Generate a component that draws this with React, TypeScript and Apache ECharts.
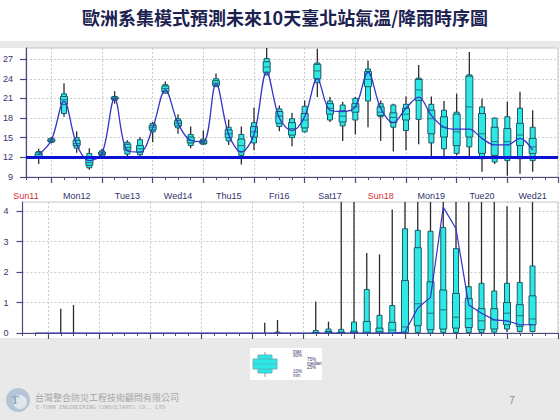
import React, { useEffect, useRef } from 'react';
import * as echarts from 'echarts';

// forecast lead positions: hours counted from Sun11 00:00
const boxHours = [18, 24, 30, 36, 42, 48, 54, 60, 66, 72, 78, 84, 90, 96, 102, 108, 114, 120, 126, 132, 138, 144, 150, 156, 162, 168, 174, 180, 186, 192, 198, 204, 210, 216, 222, 228, 234, 240, 246, 252];
const dayLabels = ['Sun11', 'Mon12', 'Tue13', 'Wed14', 'Thu15', 'Fri16', 'Sat17', 'Sun18', 'Mon19', 'Tue20', 'Wed21'];
const labelHours = [12, 36, 60, 84, 108, 132, 156, 180, 204, 228, 252];
const dayStartHours = [24, 48, 72, 96, 120, 144, 168, 192, 216, 240, 264];
const tempTicks = [9, 12, 15, 18, 21, 24, 27];
const rainTicks = [0, 1, 2, 3, 4];

// temperature ensemble statistics (°C)
const tempMin = [11.0, 14.1, 18.2, 12.7, 10.1, 12.0, 20.2, 11.8, 11.9, 14.3, 21.8, 15.6, 13.4, 14.0, 22.8, 13.9, 10.9, 13.1, 24.5, 16.0, 13.7, 15.8, 21.2, 17.4, 14.5, 15.5, 16.6, 14.5, 12.9, 13.1, 14.0, 12.1, 11.8, 12.3, 12.1, 9.8, 11.0, 9.2, 9.5, 9.8];
const tempP10 = [11.9, 14.3, 18.7, 13.4, 10.4, 12.2, 20.7, 12.5, 12.4, 15.9, 21.8, 16.5, 13.8, 14.0, 22.8, 14.5, 12.3, 14.2, 24.6, 16.7, 15.0, 15.9, 23.4, 17.7, 16.8, 17.7, 20.6, 18.2, 16.6, 16.1, 17.8, 14.2, 13.3, 12.6, 13.6, 11.8, 11.3, 11.5, 11.8, 11.5];
const tempP25 = [12.1, 14.4, 20.1, 13.8, 10.8, 12.4, 20.9, 13.1, 12.8, 16.2, 22.0, 16.8, 14.2, 14.1, 23.0, 15.0, 12.9, 15.1, 25.0, 17.2, 15.4, 16.5, 24.0, 18.6, 17.4, 18.9, 22.8, 18.4, 17.3, 17.7, 20.7, 15.6, 15.1, 13.8, 15.1, 12.6, 12.3, 12.0, 13.8, 12.6];
const tempMed = [12.4, 14.6, 20.8, 14.1, 11.2, 12.6, 21.0, 13.5, 13.3, 16.6, 22.5, 17.2, 14.6, 14.3, 23.3, 15.6, 13.8, 15.9, 25.8, 18.3, 16.4, 17.7, 25.2, 19.5, 18.3, 19.7, 23.9, 18.9, 18.1, 18.6, 22.3, 17.9, 16.6, 15.9, 19.7, 15.6, 14.4, 14.4, 15.4, 13.6];
const tempP75 = [12.7, 14.8, 21.3, 14.6, 12.0, 12.8, 21.2, 14.0, 13.8, 16.9, 22.9, 17.6, 15.1, 14.6, 23.7, 16.2, 14.8, 16.7, 26.6, 19.0, 17.3, 18.7, 26.2, 20.2, 19.1, 20.2, 25.1, 19.7, 18.8, 19.5, 23.9, 19.2, 18.2, 18.6, 24.4, 18.7, 16.6, 16.4, 17.2, 14.9];
const tempP90 = [12.9, 14.9, 21.7, 15.0, 12.6, 13.0, 21.3, 14.3, 14.7, 17.2, 23.1, 17.9, 15.5, 14.8, 24.0, 16.6, 15.5, 17.3, 27.1, 19.4, 17.9, 19.8, 26.4, 20.6, 20.0, 21.0, 25.5, 20.2, 20.0, 20.1, 24.1, 20.1, 19.2, 18.9, 24.6, 19.7, 18.0, 18.2, 19.5, 16.6];
const tempMax = [13.3, 15.1, 23.3, 16.0, 13.4, 13.3, 22.1, 14.6, 15.1, 17.4, 23.6, 18.6, 16.7, 16.1, 24.8, 17.8, 16.7, 19.6, 29.5, 19.9, 18.8, 20.7, 28.6, 21.2, 20.5, 21.2, 26.8, 20.7, 20.2, 21.3, 26.1, 21.3, 20.6, 21.7, 28.1, 21.0, 18.1, 20.5, 22.0, 19.2];
const tempLine = [12.4, 14.6, 20.6, 14.0, 11.5, 12.6, 21.0, 13.0, 12.8, 16.5, 22.3, 17.2, 14.6, 14.4, 23.3, 15.5, 12.8, 15.5, 25.0, 18.0, 16.1, 18.2, 24.0, 19.2, 19.0, 19.7, 25.0, 19.5, 17.3, 19.5, 21.2, 18.4, 16.6, 16.3, 16.3, 14.9, 13.9, 13.9, 14.9, 13.1];
const tempRef = 12;

// rainfall ensemble statistics (mm)
const rainMin = [0, 0, 0, 0, 0, 0, 0, 0, 0, 0, 0, 0, 0, 0, 0, 0, 0, 0, 0, 0, 0, 0, 0, 0, 0, 0, 0, 0, 0, 0, 0, 0, 0, 0, 0, 0, 0, 0.03, 0.02, 0.02];
const rainP10 = [0, 0, 0, 0, 0, 0, 0, 0, 0, 0, 0, 0, 0, 0, 0, 0, 0, 0, 0, 0, 0, 0, 0, 0, 0, 0, 0, 0, 0, 0, 0.02, 0, 0.02, 0.02, 0.02, 0.02, 0.03, 0.13, 0.05, 0.05];
const rainP25 = [0, 0, 0, 0, 0, 0, 0, 0, 0, 0, 0, 0, 0, 0, 0, 0, 0, 0, 0, 0, 0, 0, 0, 0, 0, 0, 0, 0, 0, 0.02, 0.24, 0.11, 0.13, 0.16, 0.18, 0.11, 0.13, 0.27, 0.22, 0.27];
const rainMed = [0, 0, 0, 0, 0, 0, 0, 0, 0, 0, 0, 0, 0, 0, 0, 0, 0, 0, 0, 0, 0, 0, 0, 0, 0, 0.02, 0.03, 0.05, 0.1, 0.2, 0.96, 0.65, 0.76, 0.52, 0.47, 0.40, 0.43, 0.65, 0.57, 0.46];
const rainP75 = [0, 0, 0, 0, 0, 0, 0, 0, 0, 0, 0, 0, 0, 0, 0, 0, 0, 0, 0, 0, 0, 0, 0.02, 0.05, 0.03, 0.06, 0.38, 0.16, 0.35, 1.72, 2.80, 1.68, 1.41, 1.30, 1.13, 0.80, 0.80, 1.0, 0.93, 1.22];
const rainP90 = [0, 0, 0, 0, 0, 0, 0, 0, 0, 0, 0, 0, 0, 0, 0, 0, 0, 0, 0, 0.03, 0, 0, 0.08, 0.13, 0.12, 0.36, 1.43, 0.58, 0.9, 3.42, 3.37, 3.34, 3.46, 2.77, 1.52, 1.63, 1.38, 1.63, 1.66, 2.2];
const rainMax = [0, 0, 0.8, 0.92, 0, 0, 0, 0, 0, 0, 0, 0, 0, 0, 0, 0, 0, 0, 0.34, 0.43, 0, 0, 1.03, 0.37, 5.2, 5.8, 2.63, 2.58, 4.05, 7.5, 9.0, 8.1, 12.0, 10.4, 6.3, 5.9, 5.1, 4.16, 4.13, 4.9];
const rainLine = [0, 0, 0, 0, 0, 0, 0, 0, 0, 0, 0, 0, 0, 0, 0, 0, 0, 0, 0, 0, 0, 0, 0, 0, 0, 0, 0, 0, 0, 0.03, 0.82, 1.17, 4.13, 3.42, 0.92, 0.65, 0.43, 0.40, 0.27, 0.27];

const TITLE = '歐洲系集模式預測未來10天臺北站氣溫/降雨時序圖';
const COMPANY = '台灣整合防災工程技術顧問有限公司';
const COMPANY_EN = 'E-TURN ENGINEERING CONSULTANTS CO., LTD';
const PAGE = '7';

const AXIS = '#4a4a7c';
const LABEL = '#33336a';
const CYAN = '#2ee8e6';
const BOX_EDGE = '#1d5a64';
const GRIDLINE = '#cccccc';

function renderBox(params: any, api: any) {
  const x = api.value(0);
  const v = [1, 2, 3, 4, 5, 6, 7].map((i) => api.value(i));
  if (!(v[6] > 0)) return { type: 'group', children: [] };
  const cs = params.coordSys;
  const top = cs.y;
  const bot = cs.y + cs.height;
  const cl = (y: number) => Math.max(top, Math.min(bot, y));
  const px = api.coord([x, v[3]])[0];
  const Y = v.map((val: number) => cl(api.coord([x, val])[1]));
  const wOut = 5;
  const wIn = 7;
  const children: any[] = [
    { type: 'line', shape: { x1: px, y1: Y[0], x2: px, y2: Y[6] }, style: { stroke: '#2c2c2c', lineWidth: 1.3 } },
  ];
  if (Y[1] - Y[5] > 0.6) {
    children.push({ type: 'rect', shape: { x: px - wOut / 2, y: Y[5], width: wOut, height: Y[1] - Y[5] }, style: { fill: CYAN, stroke: BOX_EDGE, lineWidth: 1 } });
  }
  if (Y[2] - Y[4] > 0.6) {
    children.push({ type: 'rect', shape: { x: px - wIn / 2, y: Y[4], width: wIn, height: Y[2] - Y[4] }, style: { fill: CYAN, stroke: BOX_EDGE, lineWidth: 1 } });
    children.push({ type: 'line', shape: { x1: px - wIn / 2, y1: Y[3], x2: px + wIn / 2, y2: Y[3] }, style: { stroke: BOX_EDGE, lineWidth: 0.8 } });
  }
  return { type: 'group', children };
}

function xMain(gridIndex: number, showLabel: boolean) {
  return {
    type: 'value', gridIndex, min: 12, max: 264, position: 'bottom',
    axisLine: { show: true, onZero: false, lineStyle: { color: AXIS, width: 1.2 } },
    axisTick: { show: true, customValues: dayStartHours, length: 6, lineStyle: { color: AXIS, width: 1.2 } },
    splitLine: { show: true, lineStyle: { color: GRIDLINE, type: [2, 2], width: 1 } },
    axisLabel: showLabel
      ? {
          show: true, customValues: labelHours, margin: 14, showMinLabel: true, showMaxLabel: true, hideOverlap: false,
          fontSize: 9, fontFamily: 'Liberation Sans',
          formatter: (val: number) => {
            const i = labelHours.indexOf(Math.round(val));
            if (i < 0) return '';
            const t = dayLabels[i];
            return t.startsWith('Sun') ? `{s|${t}}` : `{d|${t}}`;
          },
          rich: {
            s: { color: '#d43030', fontSize: 9, fontFamily: 'Liberation Sans' },
            d: { color: LABEL, fontSize: 9, fontFamily: 'Liberation Sans' },
          },
        }
      : { show: false },
  };
}

function xMinor(gridIndex: number) {
  return {
    type: 'value', gridIndex, min: 12, max: 264, interval: 6, position: 'bottom',
    axisLine: { show: false, onZero: false },
    axisTick: { show: true, length: 3, lineStyle: { color: AXIS, width: 1 } },
    splitLine: { show: false },
    axisLabel: { show: false },
  };
}

function yAxis(gridIndex: number, min: number, max: number, ticks: number[], margin: number) {
  return {
    type: 'value', gridIndex, min, max,
    axisLine: { show: true, lineStyle: { color: AXIS, width: 1.2 } },
    axisTick: { show: true, customValues: ticks, length: 6, lineStyle: { color: AXIS, width: 1.2 } },
    axisLabel: { show: true, customValues: ticks, margin, fontSize: 9, color: LABEL, fontFamily: 'Liberation Sans' },
    splitLine: { show: true, lineStyle: { color: GRIDLINE, type: [2, 2], width: 1 } },
  };
}

export default function App() {
  const ref = useRef<HTMLDivElement>(null);
  useEffect(() => {
    if (!ref.current) return;
    const chart = echarts.init(ref.current, undefined, { renderer: 'svg' });
    const tempData = boxHours.map((h, i) => [h, tempMin[i], tempP10[i], tempP25[i], tempMed[i], tempP75[i], tempP90[i], tempMax[i]]);
    const rainData = boxHours.map((h, i) => [h, rainMin[i], rainP10[i], rainP25[i], rainMed[i], rainP75[i], rainP90[i], rainMax[i]]);
    const txt = (x: number, y: number, text: string, align = 'left') => ({
      type: 'text', x, y, style: { text, fontSize: 4.5, fill: '#33336a', fontFamily: 'Liberation Sans', textAlign: align, textVerticalAlign: 'middle' },
    });
    chart.setOption({
      animation: false,
      backgroundColor: 'transparent',
      grid: [
        { left: 24, top: 48, width: 534, height: 129, show: true, backgroundColor: '#ffffff', borderColor: '#c4c4c4', borderWidth: 1 },
        { left: 22.5, top: 202, width: 535.5, height: 131, show: true, backgroundColor: '#ffffff', borderColor: '#c4c4c4', borderWidth: 1 },
      ],
      xAxis: [xMain(0, true), xMinor(0), xMain(1, false), xMinor(1)],
      yAxis: [yAxis(0, 9, 28.7, tempTicks, 13), yAxis(1, 0, 4.3, rainTicks, 14)],
      series: [
        {
          type: 'custom', xAxisIndex: 0, yAxisIndex: 0, renderItem: renderBox, data: tempData, clip: true, z: 2,
          encode: { x: 0, y: [1, 2, 3, 4, 5, 6, 7] },
        },
        {
          type: 'line', xAxisIndex: 0, yAxisIndex: 0, data: boxHours.map((h, i) => [h, tempLine[i]]),
          smooth: 0.35, showSymbol: false, symbol: 'none', z: 4,
          lineStyle: { color: '#3434c8', width: 1.3 },
          markLine: {
            silent: true, symbol: 'none', label: { show: false },
            lineStyle: { color: '#0b12d6', width: 3.2, type: 'solid' },
            data: [{ yAxis: tempRef }],
          },
        },
        {
          type: 'custom', xAxisIndex: 2, yAxisIndex: 1, renderItem: renderBox, data: rainData, clip: true, z: 2,
          encode: { x: 0, y: [1, 2, 3, 4, 5, 6, 7] },
        },
        {
          type: 'line', xAxisIndex: 2, yAxisIndex: 1, data: boxHours.map((h, i) => [h, rainLine[i]]),
          showSymbol: false, symbol: 'none', z: 4,
          lineStyle: { color: '#3434c8', width: 1.2 },
        },
      ],
      graphic: [
        {
          type: 'text', x: 285, y: 17,
          style: { text: TITLE, fontSize: 18, fontWeight: 'bold', fill: '#1c2250', fontFamily: 'Noto Sans CJK TC', textAlign: 'center', textVerticalAlign: 'middle' },
        },
        // legend box
        { type: 'rect', shape: { x: 250, y: 348, width: 72, height: 32 }, style: { fill: '#ffffff' } },
        { type: 'line', shape: { x1: 265, y1: 352, x2: 265, y2: 377 }, style: { stroke: '#999', lineWidth: 1 } },
        { type: 'rect', shape: { x: 258, y: 355, width: 14, height: 18 }, style: { fill: CYAN, stroke: '#5aa8b0', lineWidth: 0.8 } },
        { type: 'rect', shape: { x: 253, y: 359, width: 24, height: 10 }, style: { fill: CYAN, stroke: '#5aa8b0', lineWidth: 0.8 } },
        { type: 'line', shape: { x1: 253, y1: 364, x2: 277, y2: 364 }, style: { stroke: '#5aa8b0', lineWidth: 0.6 } },
        txt(293, 351, 'max'),
        txt(293, 355, '90%'),
        txt(307, 359, '75%'),
        txt(307, 363, 'median'),
        txt(307, 367, '25%'),
        txt(293, 371, '10%'),
        txt(293, 375, 'min'),
        // footer
        { type: 'circle', shape: { cx: 18, cy: 400, r: 12 }, style: { fill: '#b3c5d6' } },
        { type: 'circle', shape: { cx: 20, cy: 402, r: 7 }, style: { fill: '#dfe6ec' } },
        { type: 'text', x: 15, y: 400, style: { text: 'T', fontSize: 12, fontWeight: 'bold', fill: '#8fa8be', textAlign: 'center', textVerticalAlign: 'middle', fontFamily: 'Liberation Serif' } },
        { type: 'text', x: 35, y: 397, style: { text: COMPANY, fontSize: 9, fill: '#a6a6a6', fontFamily: 'Noto Sans CJK TC', textVerticalAlign: 'middle' } },
        { type: 'text', x: 36, y: 407, style: { text: COMPANY_EN, fontSize: 5.5, fill: '#b0b0b0', fontFamily: 'DejaVu Sans Mono', textVerticalAlign: 'middle' } },
        { type: 'text', x: 512, y: 400, style: { text: PAGE, fontSize: 10, fill: '#8a8a8a', fontFamily: 'Liberation Sans', textAlign: 'center', textVerticalAlign: 'middle' } },
      ],
    });
    return () => chart.dispose();
  }, []);

  return (
    <div style={{ position: 'absolute', left: 0, top: 0, width: 560, height: 420, background: '#e9e9e9', overflow: 'hidden' }}>
      <div style={{ position: 'absolute', left: 0, top: 0, width: 560, height: 41, background: '#ffffff' }} />
      <div style={{ position: 'absolute', left: 0, top: 48, width: 560, height: 290, background: '#ffffff' }} />
      <div ref={ref} style={{ position: 'absolute', left: 0, top: 0, width: 560, height: 420 }} />
    </div>
  );
}
